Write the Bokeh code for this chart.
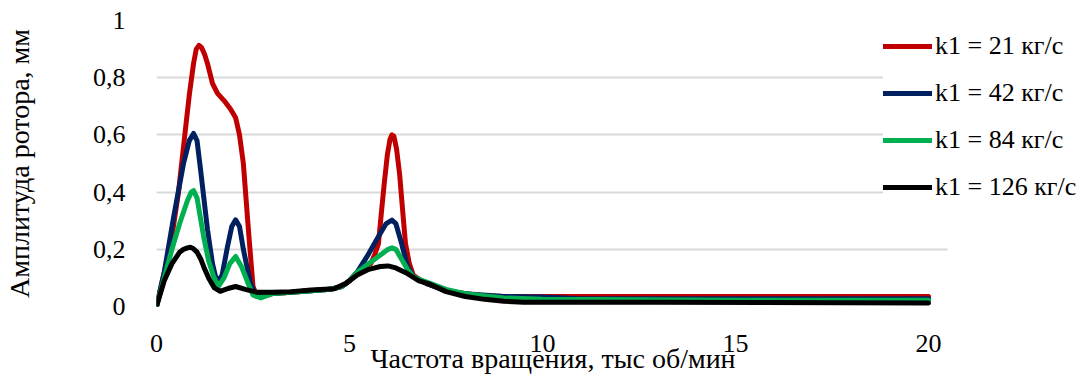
from bokeh.plotting import figure
from bokeh.models import Range1d, Legend, LegendItem, FixedTicker
from bokeh.embed import file_html
from bokeh.resources import INLINE

# ---- data ----
series_names = ["k1 = 21 кг/с", "k1 = 42 кг/с", "k1 = 84 кг/с", "k1 = 126 кг/с"]

x_21 = [0, 0.15, 0.35, 0.57, 0.75, 0.85, 0.96, 1.03, 1.1, 1.17, 1.25, 1.32, 1.45, 1.58, 1.75, 1.92,
        2.05, 2.15, 2.25, 2.38, 2.5, 2.6, 2.75, 3.0, 3.5, 4.0, 4.5, 4.8, 5.0, 5.2, 5.4, 5.55, 5.65,
        5.75, 5.82, 5.9, 5.98, 6.05, 6.1, 6.15, 6.22, 6.3, 6.38, 6.45, 6.55, 6.65, 6.8, 7.0, 7.5,
        8.0, 8.5, 9.0, 10, 12, 15, 20]
y_21 = [0, 0.09, 0.2, 0.4, 0.62, 0.74, 0.85, 0.9, 0.913, 0.905, 0.88, 0.85, 0.78, 0.745, 0.72, 0.69,
        0.66, 0.6, 0.5, 0.27, 0.07, 0.035, 0.035, 0.045, 0.05, 0.055, 0.06, 0.07, 0.09, 0.12, 0.14,
        0.15, 0.18, 0.22, 0.32, 0.43, 0.53, 0.585, 0.6, 0.595, 0.55, 0.46, 0.33, 0.22, 0.15, 0.11,
        0.095, 0.08, 0.055, 0.045, 0.038, 0.035, 0.035, 0.035, 0.035, 0.035]

x_42 = [0, 0.2, 0.44, 0.7, 0.85, 0.96, 1.05, 1.14, 1.32, 1.45, 1.53, 1.6, 1.7, 1.84, 1.95, 2.05,
        2.15, 2.25, 2.43, 2.55, 2.7, 3.0, 3.5, 4.0, 4.5, 4.8, 5.0, 5.2, 5.5, 5.75, 5.95, 6.1, 6.2,
        6.35, 6.5, 6.65, 6.8, 7.0, 7.5, 8.0, 9.0, 10, 11, 15, 20]
y_42 = [0, 0.12, 0.31, 0.5, 0.58, 0.605, 0.58, 0.48, 0.27, 0.15, 0.105, 0.087, 0.11, 0.21, 0.28,
        0.303, 0.28, 0.2, 0.083, 0.045, 0.04, 0.045, 0.05, 0.055, 0.06, 0.07, 0.09, 0.12, 0.185,
        0.245, 0.29, 0.302, 0.29, 0.22, 0.14, 0.105, 0.095, 0.08, 0.055, 0.045, 0.035, 0.033, 0.027,
        0.027, 0.027]

x_84 = [0, 0.2, 0.4, 0.6, 0.8, 0.9, 0.96, 1.05, 1.22, 1.35, 1.48, 1.6, 1.75, 1.9, 2.05, 2.2, 2.36,
        2.5, 2.7, 3.0, 3.5, 4.0, 4.5, 4.8, 5.0, 5.2, 5.5, 5.8, 6.0, 6.1, 6.2, 6.35, 6.5, 6.65, 6.8,
        7.0, 7.5, 8.0, 9.0, 10, 15, 20]
y_84 = [0, 0.1, 0.2, 0.29, 0.37, 0.4, 0.405, 0.38, 0.245, 0.16, 0.105, 0.07, 0.1, 0.15, 0.175,
        0.14, 0.085, 0.04, 0.03, 0.045, 0.05, 0.055, 0.06, 0.07, 0.09, 0.12, 0.15, 0.18, 0.2, 0.205,
        0.2, 0.165, 0.13, 0.105, 0.095, 0.085, 0.06, 0.045, 0.03, 0.025, 0.022, 0.022]

x_126 = [0, 0.2, 0.4, 0.6, 0.7, 0.8, 0.88, 0.95, 1.05, 1.15, 1.25, 1.35, 1.5, 1.65, 1.85, 2.05,
         2.3, 2.6, 3.0, 3.5, 4.0, 4.6, 4.9, 5.2, 5.5, 5.8, 6.0, 6.2, 6.5, 6.8, 7.1, 7.5, 8.0, 8.5,
         9.0, 9.5, 13, 20]
y_126 = [0, 0.09, 0.15, 0.19, 0.2, 0.205, 0.207, 0.203, 0.19, 0.165, 0.13, 0.1, 0.065, 0.053,
         0.063, 0.07, 0.06, 0.05, 0.05, 0.052, 0.058, 0.062, 0.08, 0.11, 0.13, 0.14, 0.142, 0.135,
         0.115, 0.09, 0.077, 0.052, 0.035, 0.025, 0.018, 0.015, 0.015, 0.012]

x_ticks = [0, 5, 10, 15, 20]
y_ticks = [0, 0.2, 0.4, 0.6, 0.8, 1]
y_tick_labels = ["0", "0,2", "0,4", "0,6", "0,8", "1"]
x_title = "Частота вращения, тыс об/мин"
y_title = "Амплитуда ротора, мм"

colors = ["#C00000", "#002060", "#00B050", "#000000"]

FONT = "Liberation Serif"

p = figure(width=1089, height=376, output_backend="svg", toolbar_location=None,
           x_range=Range1d(0, 24.17), y_range=Range1d(0, 1),
           min_border_left=156, min_border_right=0, min_border_top=20, min_border_bottom=69,
           background_fill_color="white", border_fill_color="white")
p.outline_line_color = None

renderers = []
for xs, ys, c in zip([x_21, x_42, x_84, x_126], [y_21, y_42, y_84, y_126], colors):
    r = p.line(xs, ys, line_color=c, line_width=5, line_join="round", line_cap="round")
    renderers.append(r)

# axes
p.xaxis.ticker = FixedTicker(ticks=x_ticks)
p.yaxis.ticker = FixedTicker(ticks=y_ticks)
p.yaxis.major_label_overrides = {t: l for t, l in zip(y_ticks, y_tick_labels)}
for ax in (p.xaxis[0], p.yaxis[0]):
    ax.axis_line_color = None
    ax.major_tick_line_color = None
    ax.minor_tick_line_color = None
    ax.major_label_text_font = FONT
    ax.major_label_text_font_size = "26px"
    ax.major_label_text_color = "#000000"
    ax.axis_label_text_font = FONT
    ax.axis_label_text_font_size = "28px"
    ax.axis_label_text_font_style = "normal"
    ax.axis_label_text_color = "#000000"

# the frame reaches the right edge (room for the legend); pad the title so that
# it stays centred under the 0..20.5 span as in the reference
p.xaxis.axis_label = x_title + "\u00a0" * 20
p.yaxis.axis_label = y_title
p.xaxis.major_label_standoff = 22
p.xaxis.axis_label_standoff = -12
p.yaxis.major_label_standoff = 25
p.yaxis.axis_label_standoff = 55

p.xgrid.grid_line_color = None
p.ygrid.grid_line_color = "#D9D9D9"
p.ygrid.grid_line_width = 2
if "cross_bounds" in p.ygrid[0].properties():
    p.ygrid[0].cross_bounds = (0, 20.5)

legend = Legend(items=[LegendItem(label=n, renderers=[r]) for n, r in zip(series_names, renderers)],
                location=(727, 104), orientation="vertical")
legend.padding = 0
legend.margin = 0
legend.spacing = 17
legend.glyph_width = 49
legend.glyph_height = 30
legend.label_height = 30
legend.label_standoff = 3
legend.label_text_font = FONT
legend.label_text_font_size = "26px"
legend.label_text_color = "#000000"
legend.border_line_color = None
legend.background_fill_color = "white"
legend.background_fill_alpha = 1.0
p.add_layout(legend)

open("out.html", "w").write(file_html(p, INLINE))
